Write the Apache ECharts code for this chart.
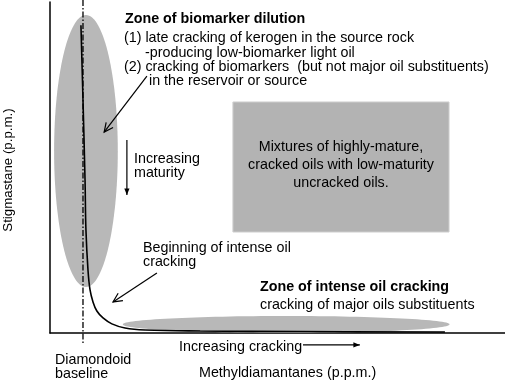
<!DOCTYPE html>
<html><head><meta charset="utf-8">
<script src="https://cdn.jsdelivr.net/npm/echarts@6/dist/echarts.min.js"></script>
<style>html,body{margin:0;padding:0;background:#fff}#c{width:505px;height:382px}</style>
</head><body><div id="c"></div>
<script>
// Conceptual curve: methyldiamantanes (x) vs stigmastane (y), arbitrary units 0-100
const curveX = [6.8, 7.25, 7.7, 7.9, 8.35, 8.8, 9.45, 10.3, 11.65, 13.6, 16.5, 20.9, 33.0, 55.0, 86.8];
const curveY = [93.0, 70.4, 46.2, 31.1, 19.0, 13.0, 9.4, 6.65, 4.55, 2.75, 1.5, 0.9, 0.6, 0.45, 0.3];
// Zones as ellipses: [centerX, centerY, radiusX, radiusY]
const zoneEllipses = [[7.9, 55.0, 7.0, 41.1], [51.9, 2.6, 35.9, 2.5]];
// Mixture box: [x1, y1, x2, y2]
const mixtureBox = [[40.2, 69.8, 87.7, 30.5]];
// Diamondoid baseline: x position, y range
const baselineX = 7.25;
const baselineRange = [100.6, -3.6];
// Arrows: [x1, y1, x2, y2, kind]
const arrows = [
  [21.3, 77.6, 11.9, 60.7, 'open'],
  [16.9, 58.3, 16.9, 41.7, 'filled'],
  [23.5, 18.1, 13.85, 9.4, 'open'],
  [55.6, -3.6, 68.1, -3.6, 'filled']
];

const FF = '"Liberation Sans", Arial, sans-serif';
const font = '14.3px ' + FF;
const bold = 'bold 14.3px ' + FF;
function T(text, x, y, f, align) {
  return {type:'text', z:100, style:{text:text, x:x, y:y, font:f||font, fill:'#000', align:align||'left', verticalAlign:'middle', textAlign:align||'left', textVerticalAlign:'middle'}};
}

const chart = echarts.init(document.getElementById('c'));
chart.setOption({
  animation:false,
  grid:{left:50, right:0, top:2, bottom:49},
  xAxis:{type:'value', min:0, max:100, axisLine:{show:true, lineStyle:{color:'#000', width:1.5}}, axisTick:{show:false}, axisLabel:{show:false}, splitLine:{show:false}},
  yAxis:{type:'value', min:0, max:100, axisLine:{show:true, lineStyle:{color:'#000', width:1.5}}, axisTick:{show:false}, axisLabel:{show:false}, splitLine:{show:false}},
  series:[
    {type:'custom', z:1, clip:false, data:zoneEllipses, renderItem:function(p, api){
      const c = api.coord([api.value(0), api.value(1)]);
      const s = api.size([api.value(2), api.value(3)]);
      return {type:'ellipse', shape:{cx:c[0], cy:c[1], rx:s[0], ry:s[1]}, style:{fill:'#b8b8b8'}};
    }},
    {type:'custom', z:1, data:mixtureBox, renderItem:function(p, api){
      const a = api.coord([api.value(0), api.value(1)]);
      const b = api.coord([api.value(2), api.value(3)]);
      return {type:'rect', shape:{x:a[0], y:a[1], width:b[0]-a[0], height:b[1]-a[1]}, style:{fill:'#b3b3b3', stroke:'#d0d0d0', lineWidth:1}};
    }},
    {type:'custom', z:3, clip:false, data:[[baselineX, baselineRange[0], baselineRange[1]]], renderItem:function(p, api){
      const a = api.coord([api.value(0), api.value(1)]);
      const b = api.coord([api.value(0), api.value(2)]);
      return {type:'line', shape:{x1:a[0], y1:a[1], x2:b[0], y2:b[1]}, style:{stroke:'#000', lineWidth:1.3, lineDash:[6,2,1.5,2]}};
    }},
    {type:'line', z:4, data:curveX.map((x,i)=>[x, curveY[i]]), smooth:0.4, symbol:'none', lineStyle:{color:'#000', width:1.6}},
    {type:'custom', z:5, clip:false, data:arrows, renderItem:function(p, api){
      const a = api.coord([api.value(0), api.value(1)]);
      const b = api.coord([api.value(2), api.value(3)]);
      const kind = arrows[p.dataIndex][4];
      const ang = Math.atan2(b[1]-a[1], b[0]-a[0]);
      const L = kind==='open'?10:7, W = kind==='open'?0.45:0.38;
      const p1 = [b[0]-L*Math.cos(ang-W), b[1]-L*Math.sin(ang-W)];
      const p2 = [b[0]-L*Math.cos(ang+W), b[1]-L*Math.sin(ang+W)];
      const children = [{type:'line', shape:{x1:a[0], y1:a[1], x2:b[0], y2:b[1]}, style:{stroke:'#000', lineWidth:1.2}}];
      if (kind==='open') children.push({type:'polyline', shape:{points:[p1, b, p2]}, style:{stroke:'#000', fill:null, lineWidth:1.2}});
      else children.push({type:'polygon', shape:{points:[p1, b, p2]}, style:{fill:'#000'}});
      return {type:'group', children:children};
    }}
  ],
  graphic:[
    T('Zone of biomarker dilution', 125, 19, bold),
    T('(1) late cracking of kerogen in the source rock', 124, 38),
    T('-producing low-biomarker light oil', 145, 53),
    T('(2) cracking of biomarkers  (but not major oil substituents)', 124, 67),
    T('in the reservoir or source', 149, 81),
    T('Mixtures of highly-mature,', 341, 147, font, 'center'),
    T('cracked oils with low-maturity', 341, 165, font, 'center'),
    T('uncracked oils.', 341, 183, font, 'center'),
    T('Increasing', 134, 159),
    T('maturity', 134, 173),
    T('Beginning of intense oil', 143, 248),
    T('cracking', 143, 262),
    T('Zone of intense oil cracking', 260, 287, bold),
    T('cracking of major oils substituents', 260, 305),
    T('Increasing cracking', 179, 347),
    T('Diamondoid', 55, 360),
    T('baseline', 55, 374),
    T('Methyldiamantanes (p.p.m.)', 199, 373, '14.3px ' + FF),
    {type:'text', z:100, x:8, y:170, rotation:Math.PI/2, style:{text:'Stigmastane (p.p.m.)', x:0, y:0, font:'13.3px ' + FF, fill:'#000', align:'center', verticalAlign:'middle', textAlign:'center', textVerticalAlign:'middle'}}
  ]
});
</script></body></html>
